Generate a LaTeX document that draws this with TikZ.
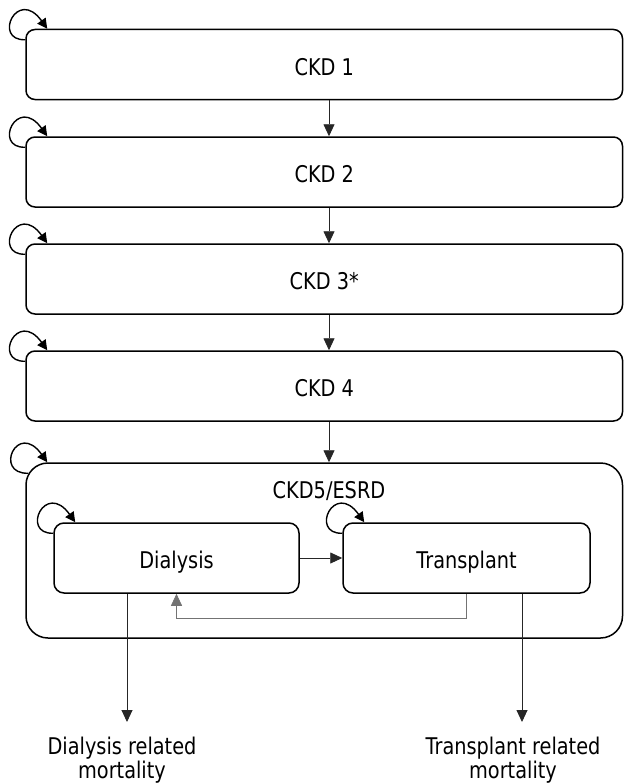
\documentclass[tikz,border=0pt]{standalone}
\usepackage{fontspec}
\setmainfont[FakeStretch=0.84]{DejaVu Sans}
\usepackage{tikz}
\usetikzlibrary{arrows.meta,positioning}
\newcommand{\diagfont}{\fontsize{23}{24}\selectfont}

\begin{document}
\begin{tikzpicture}[
      x=1pt, y=-1pt,
      stage/.style={
        draw,
        line width=1.5pt,
        rounded corners=9pt,
        minimum width=596.5pt,
        minimum height=70pt,
        inner sep=0pt,
        text height=21pt,
        text depth=0pt,
        font=\diagfont
      },
      inner/.style={stage, rounded corners=10pt, minimum width=245pt},
      flow/.style={-{Triangle[length=12pt,width=11pt]}, line width=0.9pt, black!85},
      back/.style={-{Triangle[length=12pt,width=11pt]}, line width=0.8pt, black!55},
      selfloop/.style={-{Triangle[length=10pt,width=10pt]}, line width=1.4pt},
      outcome/.style={align=center, inner sep=0pt, font=\diagfont, anchor=north}
    ]
      \path[use as bounding box] (0,0) rectangle (624,784);

      % CKD stages
      \node[stage] (c1) at (324.25,64.5) {CKD 1};
      \node[stage] (c2) at (324.25,172) {CKD 2};
      \node[stage] (c3) at (324.25,279) {CKD 3*};
      \node[stage] (c4) at (324.25,386) {CKD 4};

      % End stage
      \node[stage, rounded corners=22pt, minimum height=175pt] (esrd) at (324.25,550.5) {};
      \node[font=\diagfont, inner sep=0pt, anchor=base] (esrdlbl) at (329,498) {CKD5/ESRD};
      \node[inner] (dia) at (176.5,558) {Dialysis};
      \node[inner, minimum width=247pt] (tx) at (466.5,558) {Transplant};

      % Outcomes
      \node[outcome] (dmort) at (122,737) {Dialysis related\\mortality};
      \node[outcome] (tmort) at (513,737) {Transplant related\\mortality};

      % Progression
      \coordinate (axis) at (329,0);
      \foreach \a/\b in {c1/c2,c2/c3,c3/c4,c4/esrd}
        \draw[flow] (\a.south -| axis) -- (\b.north -| axis);

      % Remaining in state
      \foreach \n in {c1,c2,c3,c4,dia,tx}
        \draw[selfloop] ([yshift=-11pt]\n.north west) .. controls +(-33,1) and +(-30,-42) .. ([xshift=22pt]\n.north west);
      \draw[selfloop] ([xshift=3pt,yshift=-11pt]esrd.north west) .. controls +(-35,1) and +(-30,-42) .. ([xshift=22pt]esrd.north west);

      % Treatment switches
      \draw[flow] (dia.east) -- (tx.west);
      \draw[back] (tx.south) -- ++(0,25) -| (dia.south);

      % Mortality
      \coordinate (dx) at (127,722);
      \coordinate (tx2) at (522,722);
      \draw[flow] (dia.south -| dx) -- (dx);
      \draw[flow] (tx.south -| tx2) -- (tx2);
    \end{tikzpicture}
\end{document}
